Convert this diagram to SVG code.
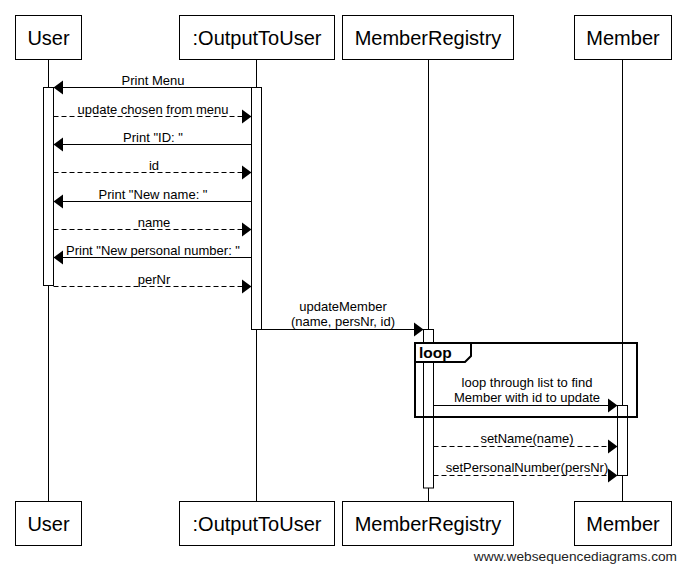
<svg xmlns="http://www.w3.org/2000/svg" width="686" height="570" viewBox="0 0 686 570">
<defs>
<marker id="ah" markerUnits="userSpaceOnUse" markerWidth="10" markerHeight="15" refX="9.5" refY="7.5" orient="auto" viewBox="0 0 10 15">
<path d="M0,0.5 L9.5,7.5 L0,14.5 Z" fill="#000" stroke="none"/>
</marker>
</defs>
<style>
.box{fill:#fff;stroke:#000;stroke-width:1}
.pt{font-family:"Liberation Sans",Arial,sans-serif;font-size:20px;text-anchor:middle;fill:#000}
.life{stroke:#000;stroke-width:1;fill:none}
.act{fill:#fff;stroke:#000;stroke-width:1}
.msg{stroke:#000;stroke-width:1;fill:none;marker-end:url(#ah)}
.dash{stroke-dasharray:5,3}
.lbl{font-family:"Liberation Sans",Arial,sans-serif;font-size:13px;text-anchor:middle;fill:#000}
.frame{fill:none;stroke:#000;stroke-width:2}
.tab{fill:#fff;stroke:#000;stroke-width:2}
.ft{font-family:"Liberation Sans",Arial,sans-serif;font-size:15.5px;font-weight:bold;fill:#000}
.wm{font-family:"Liberation Sans",Arial,sans-serif;font-size:13.7px;text-anchor:end;fill:#222}
</style>
<rect width="686" height="570" fill="#fff"/>

<g id="lifelines">
<line class="life" x1="48.5" y1="59" x2="48.5" y2="501"/>
<line class="life" x1="256.5" y1="59" x2="256.5" y2="501"/>
<line class="life" x1="428.5" y1="59" x2="428.5" y2="501"/>
<line class="life" x1="622.5" y1="59" x2="622.5" y2="501"/>
</g>

<g id="activations">
<rect class="act" x="43.5" y="87.5" width="10" height="198"/>
<rect class="act" x="251.5" y="87.5" width="10" height="242"/>
<rect class="act" x="423.5" y="329.5" width="10" height="158.5"/>
<rect class="act" x="617.5" y="405.5" width="10" height="70"/>
</g>

<g id="node-user">
<rect class="box" x="15.5" y="15.5" width="66" height="44"/>
<text class="pt" x="48.5" y="45">User</text>
<rect class="box" x="15.5" y="501.5" width="66" height="44"/>
<text class="pt" x="48.5" y="531">User</text>
</g>
<g id="node-output">
<rect class="box" x="179.5" y="15.5" width="155" height="44"/>
<text class="pt" x="257" y="45">:OutputToUser</text>
<rect class="box" x="179.5" y="501.5" width="155" height="44"/>
<text class="pt" x="257" y="531">:OutputToUser</text>
</g>
<g id="node-registry">
<rect class="box" x="342.5" y="15.5" width="171" height="44"/>
<text class="pt" x="428" y="45">MemberRegistry</text>
<rect class="box" x="342.5" y="501.5" width="171" height="44"/>
<text class="pt" x="428" y="531">MemberRegistry</text>
</g>
<g id="node-member">
<rect class="box" x="574.5" y="15.5" width="97" height="44"/>
<text class="pt" x="623" y="45">Member</text>
<rect class="box" x="574.5" y="501.5" width="97" height="44"/>
<text class="pt" x="623" y="531">Member</text>
</g>

<g id="loop-frame">
<rect class="frame" x="415" y="343" width="222" height="74"/>
<path class="tab" d="M415,343 H471 V356 L465,362 H415 Z"/>
<text class="ft" x="419" y="358">loop</text>
</g>

<g id="connectors">
<line class="msg" x1="251.5" y1="87.5" x2="53.5" y2="87.5"/>
<line class="msg dash" x1="53.5" y1="116.5" x2="251.5" y2="116.5"/>
<line class="msg" x1="251.5" y1="144.5" x2="53.5" y2="144.5"/>
<line class="msg dash" x1="53.5" y1="172.5" x2="251.5" y2="172.5"/>
<line class="msg" x1="251.5" y1="201.5" x2="53.5" y2="201.5"/>
<line class="msg dash" x1="53.5" y1="229.5" x2="251.5" y2="229.5"/>
<line class="msg" x1="251.5" y1="257.5" x2="53.5" y2="257.5"/>
<line class="msg dash" x1="53.5" y1="286.5" x2="251.5" y2="286.5"/>
<line class="msg" x1="251.5" y1="329.5" x2="423.5" y2="329.5"/>
<line class="msg" x1="433.5" y1="405.5" x2="617.5" y2="405.5"/>
<line class="msg dash" x1="433.5" y1="446.5" x2="617.5" y2="446.5"/>
<line class="msg dash" x1="433.5" y1="475.5" x2="617.5" y2="475.5"/>
</g>

<g id="labels">
<text class="lbl" x="153" y="84.5">Print Menu</text>
<text class="lbl" x="153" y="113.5">update chosen from menu</text>
<text class="lbl" x="153" y="141.5">Print "ID: "</text>
<text class="lbl" x="154" y="169.5">id</text>
<text class="lbl" x="153" y="198.5">Print "New name: "</text>
<text class="lbl" x="154" y="226.5">name</text>
<text class="lbl" x="153" y="254.5">Print "New personal number: "</text>
<text class="lbl" x="154" y="283.5">perNr</text>
<text class="lbl" x="343" y="311">updateMember</text>
<text class="lbl" x="343" y="325.5">(name, persNr, id)</text>
<text class="lbl" x="527" y="387">loop through list to find</text>
<text class="lbl" x="527" y="401.5">Member with id to update</text>
<text class="lbl" x="527" y="442.5">setName(name)</text>
<text class="lbl" x="527" y="471.5">setPersonalNumber(persNr)</text>
</g>

<text class="wm" x="677" y="561">www.websequencediagrams.com</text>
</svg>
